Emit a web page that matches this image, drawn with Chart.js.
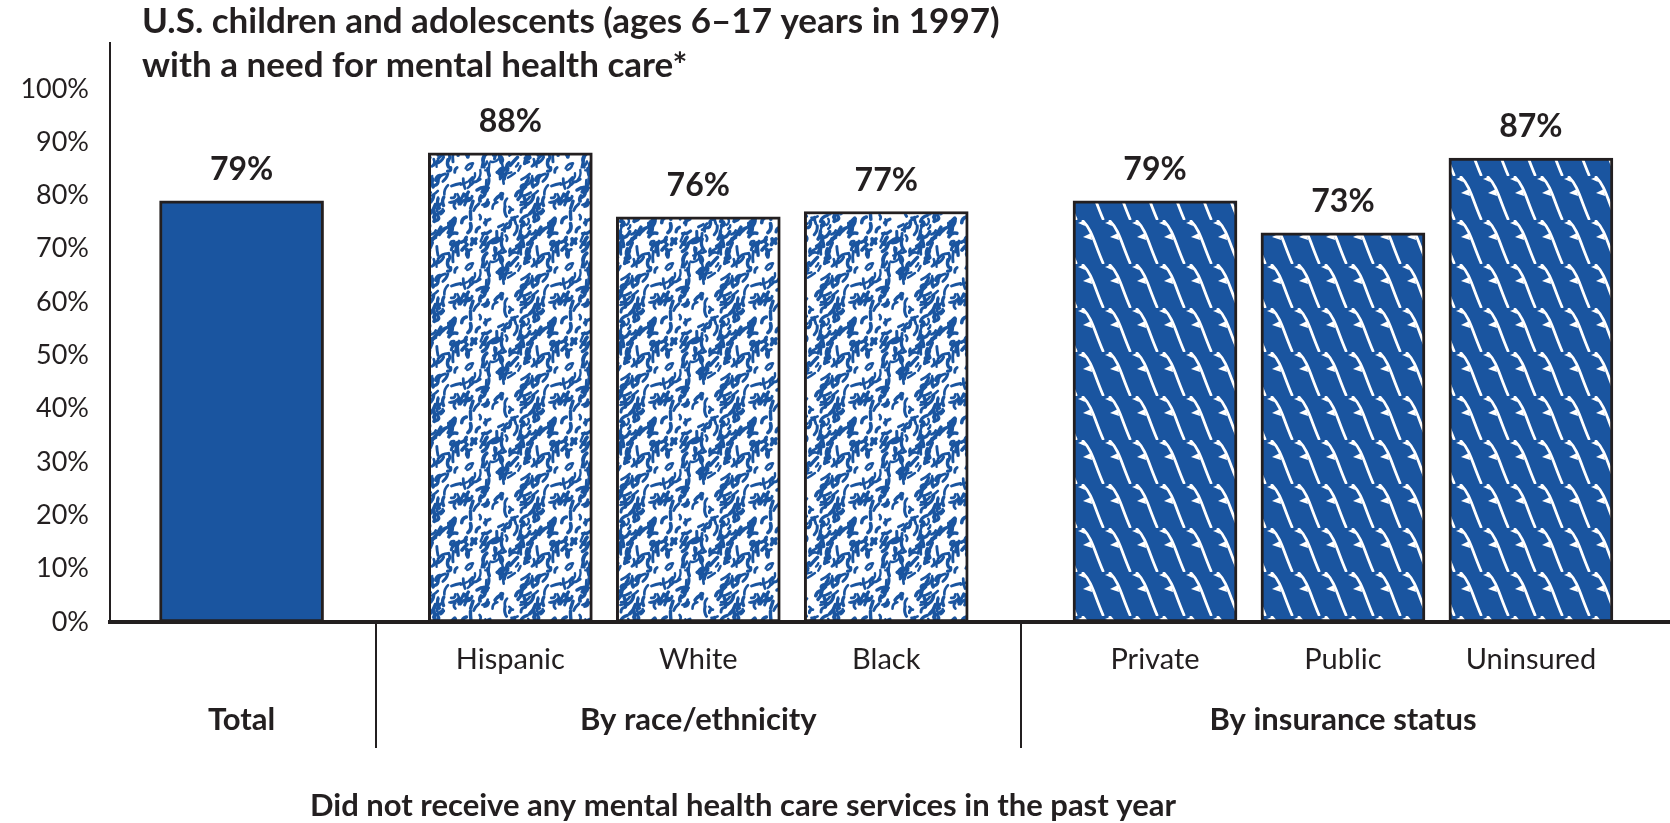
<!DOCTYPE html>
<html><head><meta charset="utf-8">
<script src="https://cdn.jsdelivr.net/npm/chart.js@4.4.1/dist/chart.umd.min.js"></script>
<style>html,body{margin:0;padding:0;background:#fff;}#wrap{width:1670px;height:823px;}</style>
</head><body><div id="wrap"><canvas id="c" width="1670" height="823"></canvas></div>
<script>
const titleLines = ['U.S. children and adolescents (ages 6\u201317 years in 1997)', 'with a need for mental health care*'];
const footerText = 'Did not receive any mental health care services in the past year';
const categories = ['Total', 'Hispanic', 'White', 'Black', 'Private', 'Public', 'Uninsured'];
const groups = ['Total', 'By race/ethnicity', 'By insurance status'];
const groupOfCategory = [0, 1, 1, 1, 2, 2, 2];
const values = [79, 88, 76, 77, 79, 73, 87];
const yTickValues = [0, 10, 20, 30, 40, 50, 60, 70, 80, 90, 100];

const BLUE = '#1a55a0';
const INK = '#231f20';
const FAMILY = 'Lato, "Open Sans", sans-serif';
const GROUP_GAP = 0.43;

const pos = categories.map((c, i) => i + groupOfCategory[i] * GROUP_GAP);
const groupMembers = groups.map((g, gi) => pos.filter((_, i) => groupOfCategory[i] === gi));
const groupCenters = groupMembers.map(p => (p[0] + p[p.length - 1]) / 2);
const separators = [];
for (let g = 0; g < groups.length - 1; g++) {
  const a = groupMembers[g], b = groupMembers[g + 1];
  separators.push((a[a.length - 1] + b[0]) / 2);
}

function makeRacePattern() {
  const W = 100, H = 100;
  const t = document.createElement('canvas'); t.width = W; t.height = H;
  const g = t.getContext('2d');
  g.fillStyle = '#fff'; g.fillRect(0, 0, W, H);
  g.strokeStyle = BLUE; g.lineCap = 'round'; g.lineJoin = 'round';
  let s = 24680;
  const rnd = () => { s = (s * 16807) % 2147483647; return s / 2147483647; };
  for (let k = 0; k < 185; k++) {
    const x = rnd() * W, y = rnd() * H;
    const ang = -1.0 + (rnd() - 0.5) * 1.6;
    const len = 4 + rnd() * 8;
    const bend = (rnd() - 0.5) * 7;
    const lw = 2.3 + rnd() * 1.5;
    const dx = Math.cos(ang) * len, dy = Math.sin(ang) * len;
    const mx = -dy / len * bend, my = dx / len * bend;
    g.lineWidth = lw;
    for (const ox of [-W, 0, W]) for (const oy of [-H, 0, H]) {
      g.beginPath();
      g.moveTo(x + ox - dx / 2, y + oy - dy / 2);
      g.quadraticCurveTo(x + ox + mx, y + oy + my, x + ox + dx / 2, y + oy + dy / 2);
      g.stroke();
    }
  }
  return g.createPattern(t, 'repeat');
}

function makeInsurancePattern() {
  const W = 27, H = 44;
  const t = document.createElement('canvas'); t.width = W; t.height = H;
  const g = t.getContext('2d');
  g.fillStyle = BLUE; g.fillRect(0, 0, W, H);
  g.strokeStyle = '#fff'; g.fillStyle = '#fff'; g.lineWidth = 2.8; g.lineCap = 'round';
  for (const ox of [-W, 0, W]) {
    g.beginPath();
    g.moveTo(ox + 3, 1);
    g.bezierCurveTo(ox + 12, 10, ox + 14, 22, ox + 23, 43);
    g.stroke();
    g.beginPath();
    g.moveTo(ox + 11, 13); g.lineTo(ox + 3, 17); g.lineTo(ox + 12, 20); g.closePath(); g.fill();
    g.beginPath();
    g.moveTo(ox + 3, 1); g.lineTo(ox - 2, 3); g.lineTo(ox + 5, 6); g.closePath(); g.fill();
  }
  return g.createPattern(t, 'repeat');
}

const groupFills = [BLUE, makeRacePattern(), makeInsurancePattern()];
const fills = categories.map((c, i) => groupFills[groupOfCategory[i]]);

const decorPlugin = {
  id: 'decor',
  afterDatasetsDraw(chart) {
    const ctx = chart.ctx;
    const meta = chart.getDatasetMeta(0);
    ctx.save();
    ctx.fillStyle = INK;
    ctx.font = 'bold 32px ' + FAMILY;
    ctx.textAlign = 'center'; ctx.textBaseline = 'middle';
    meta.data.forEach((el, i) => { ctx.fillText(values[i] + '%', el.x, el.y - 31); });
    ctx.restore();
  },
  afterDraw(chart) {
    const ctx = chart.ctx;
    const xs = chart.scales.x;
    ctx.save();
    ctx.strokeStyle = INK; ctx.lineWidth = 2;
    separators.forEach(v => {
      const px = Math.round(xs.getPixelForValue(v));
      ctx.beginPath(); ctx.moveTo(px, chart.chartArea.bottom); ctx.lineTo(px, 748); ctx.stroke();
    });
    ctx.fillStyle = INK;
    ctx.font = 'bold 35px ' + FAMILY;
    ctx.textAlign = 'left'; ctx.textBaseline = 'middle';
    ctx.fillText(titleLines[0], 142, 22);
    ctx.fillText(titleLines[1], 142, 66);
    ctx.font = 'bold 31px ' + FAMILY;
    ctx.textAlign = 'center';
    ctx.fillText(footerText, 743, 806);
    ctx.restore();
  }
};

new Chart(document.getElementById('c'), {
  type: 'bar',
  data: {
    datasets: [{
      data: values.map((v, i) => ({ x: pos[i], y: v })),
      backgroundColor: fills,
      borderColor: INK,
      borderWidth: 3,
      borderSkipped: false,
      barThickness: 164
    }]
  },
  options: {
    responsive: false,
    animation: false,
    devicePixelRatio: 1,
    layout: { padding: { top: 43, left: 0, right: 0, bottom: 0 } },
    plugins: { legend: { display: false }, tooltip: { enabled: false }, title: { display: false } },
    scales: {
      x: {
        type: 'linear', position: 'bottom', min: -0.70, max: 7.60, offset: false,
        grid: { display: false, drawTicks: false, offset: false },
        border: { display: true, color: INK, width: 4 },
        afterBuildTicks: s => { s.ticks = pos.map(v => ({ value: v })); },
        ticks: {
          autoSkip: false, maxRotation: 0, padding: 20, color: INK,
          font: { family: FAMILY, size: 29 },
          callback: (v, i) => (groupMembers[groupOfCategory[i]].length > 1 ? categories[i] : '')
        },
        afterFit: s => { s.height = 60; }
      },
      x2: {
        type: 'linear', position: 'bottom', min: -0.70, max: 7.60, offset: false,
        grid: { display: false, drawTicks: false, offset: false },
        border: { display: false },
        afterBuildTicks: s => { s.ticks = groupCenters.map(v => ({ value: v })); },
        ticks: {
          autoSkip: false, maxRotation: 0, padding: 19, color: INK,
          font: { family: FAMILY, size: 31, weight: 'bold' },
          callback: (v, i) => groups[i]
        },
        afterFit: s => { s.height = 141; }
      },
      y: {
        min: 0, max: 108.6,
        grid: { display: false, drawTicks: false },
        border: { display: true, color: INK, width: 2 },
        afterBuildTicks: s => { s.ticks = yTickValues.map(v => ({ value: v })); },
        ticks: { padding: 21, color: INK, font: { family: FAMILY, size: 27 }, callback: v => v + '%' },
        afterFit: s => { s.width = 110; }
      }
    }
  },
  plugins: [decorPlugin]
});
</script>
</body></html>
